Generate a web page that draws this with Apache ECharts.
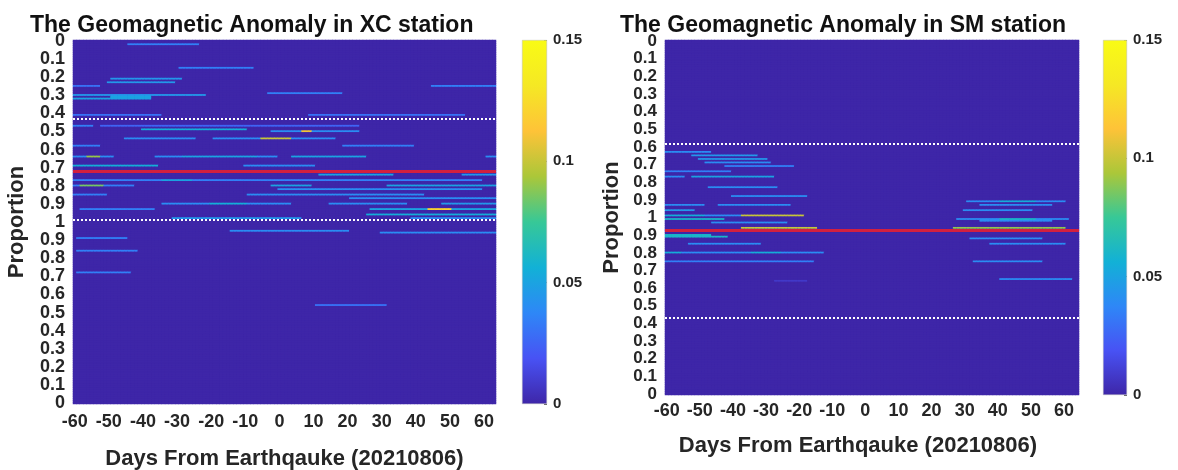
<!DOCTYPE html>
<html><head><meta charset="utf-8">
<script src="https://cdn.jsdelivr.net/npm/echarts@6/dist/echarts.min.js"></script>
<style>html,body{margin:0;padding:0;background:#fff}#c{width:1178px;height:470px}</style>
</head><body><div id="c"></div>
<script>
// ---------- data ----------
const titles = ['The Geomagnetic Anomaly in XC station', 'The Geomagnetic Anomaly in SM station'];
const xName = 'Days From Earthqauke (20210806)';
const yName = 'Proportion';
const yTickLabels = ['0','0.1','0.2','0.3','0.4','0.5','0.6','0.7','0.8','0.9','1',
                     '0.9','0.8','0.7','0.6','0.5','0.4','0.3','0.2','0.1','0'];
const xTickLabels = ['-60','-50','-40','-30','-20','-10','0','10','20','30','40','50','60'];
const rowCount = 201;               // proportion bins, top to bottom
const xcDayRange = [-60, 63];
const smDayRange = [-60, 64];
const colorRange = [0, 0.15];
const colorTickStep = 0.05;
const parula = ['#3E26A8','#4852F4','#2E87F7','#12B1D6','#37C897','#ABC739','#FEC338','#F5E824','#F9FB15'];

// anomaly segments: [row, startDay, endDay, value]
const xcSegments = [
  [2,-44,-24,0.035],[15,-29,-8,0.035],[21,-49,-29,0.045],[23,-50,-31,0.045],
  [25,-60,-53,0.03],[25,45,63,0.035],[29,-3,18,0.035],[30,-60,-22,0.045],[31,-49,-38,0.05],
  [32,-60,-38,0.05],[41,-60,-35,0.03],[41,9,54,0.03],
  [47,-60,-55,0.035],[47,-52,23,0.025],[49,-40,-10,0.055],
  [50,-2,23,0.04],[50,7,9,0.11],
  [54,-45,-25,0.04],[54,-19,16,0.04],[54,-5,3,0.1],
  [58,-60,-53,0.035],[58,19,39,0.035],
  [64,-60,-49,0.04],[64,-56,-53,0.09],[64,-36,-1,0.04],[64,-28,-7,0.05],[64,4,25,0.05],[64,61,63,0.04],
  [69,-60,-36,0.055],[69,-10,10,0.04],
  [74,12,33,0.05],[74,54,63,0.045],
  [77,-60,-12,0.035],[77,-34,-26,0.05],[77,-11,59,0.035],
  [80,-60,-43,0.035],[80,-58,-52,0.085],[80,-2,9,0.05],[80,32,63,0.05],
  [82,0,59,0.04],[85,-60,-51,0.035],[85,-9,42,0.04],[87,21,63,0.04],
  [90,-34,3,0.04],[90,-20,-10,0.055],[90,15,37,0.04],[90,48,63,0.045],
  [93,-58,-37,0.035],[93,27,63,0.05],[93,44,50,0.12],
  [96,26,63,0.055],[98,-31,6,0.045],[98,39,63,0.04],
  [105,-14,20,0.04],[106,30,63,0.04],
  [109,-59,-45,0.035],[116,-59,-42,0.035],[128,-59,-44,0.035],[146,11,31,0.03]
];
const smSegments = [
  [63,-60,-47,0.04],[65,-52,-33,0.045],[67,-50,-30,0.045],[69,-48,-29,0.04],
  [71,-42,-22,0.035],[74,-60,-41,0.035],[77,-60,-55,0.04],[77,-52,-28,0.05],
  [83,-47,-27,0.04],[88,-40,-18,0.04],
  [91,31,60,0.04],[91,41,51,0.055],
  [93,-60,-49,0.04],[93,-44,-23,0.04],[93,35,56,0.04],
  [96,-60,-52,0.045],[96,30,50,0.04],
  [99,-60,-19,0.04],[99,-60,-49,0.055],[99,-37,-19,0.1],
  [101,-60,-43,0.06],[101,28,61,0.04],[101,41,51,0.06],
  [102,35,56,0.04],[103,-46,-24,0.04],
  [106,-37,-15,0.1],[106,27,60,0.09],
  [110,-60,-47,0.06],[111,-60,-42,0.06],[112,32,53,0.04],
  [115,-53,-32,0.04],[115,38,60,0.04],
  [120,-60,-13,0.04],[120,-60,-56,0.055],[120,-34,-26,0.055],
  [125,-60,-38,0.035],[125,-37,-16,0.035],[125,33,53,0.04],
  [135,41,62,0.04],[136,-27,-18,0.008]
];
// threshold rows: [upper, lower] white dotted lines, and the red mean line
const xcWhiteRows = [43, 99];
const xcRedRow = 72;
const smWhiteRows = [58, 157];
const smRedRow = 107;

// ---------- build ----------
function dayList(r) { const a = []; for (let d = r[0]; d <= r[1]; d++) a.push(String(d)); return a; }
const xcDays = dayList(xcDayRange);
const smDays = dayList(smDayRange);
const rows = []; for (let r = 0; r < rowCount; r++) rows.push(String(r));

function buildCells(days, segs) {
  const d0 = +days[0];
  const m = rows.map(() => days.map(() => 0));
  segs.forEach(s => {
    for (let d = s[1]; d <= s[2]; d++) {
      const xi = d - d0;
      if (xi >= 0 && xi < days.length) m[s[0]][xi] = s[3];
    }
  });
  const out = [];
  for (let r = 0; r < rows.length; r++) for (let x = 0; x < days.length; x++) out.push([x, r, m[r][x]]);
  return out;
}

const FONT = 'Liberation Sans, Arial, Helvetica, sans-serif';
const TXT = '#262626';
const tickFont = { fontSize: 18, fontWeight: 'bold', color: TXT, fontFamily: FONT };
const nameFont = { fontSize: 22, fontWeight: 'bold', color: TXT, fontFamily: FONT };

function heatX(gi, days, margin, gap, pad) {
  return {
    type: 'category', gridIndex: gi, data: days,
    axisLine: { show: false }, axisTick: { show: false }, splitLine: { show: false },
    axisLabel: Object.assign({
      interval: (i, v) => xTickLabels.indexOf(v) >= 0, margin: margin, hideOverlap: false }, tickFont),
    name: xName, nameLocation: 'middle', nameGap: gap, nameMoveOverlap: false,
    nameTextStyle: Object.assign({ padding: pad }, nameFont)
  };
}
function heatY(gi, gap, fs) {
  return {
    type: 'category', gridIndex: gi, data: rows, inverse: true,
    axisLine: { show: false }, axisTick: { show: false }, splitLine: { show: false },
    axisLabel: Object.assign({}, tickFont, { interval: (i) => i % 10 === 0, margin: 8, showMinLabel: true, showMaxLabel: true,
      hideOverlap: false, fontSize: fs, lineHeight: 14, formatter: (v, i) => yTickLabels[Math.round(i / 10)] }),
    name: yName, nameLocation: 'middle', nameGap: gap, nameRotate: 90, nameMoveOverlap: false, nameTextStyle: nameFont
  };
}
function cbX(gi) { return { type: 'category', gridIndex: gi, data: ['c'], show: false }; }
function cbY(gi) {
  return {
    type: 'value', gridIndex: gi, position: 'right', min: colorRange[0], max: colorRange[1], interval: colorTickStep,
    axisLine: { show: false }, splitLine: { show: false },
    axisTick: { show: true, inside: true, length: 3, lineStyle: { color: '#666' } },
    axisLabel: { margin: 6, fontSize: 15, fontWeight: 'bold', color: TXT, fontFamily: FONT,
                 formatter: v => String(+v.toFixed(2)) }
  };
}
function lines(whiteRows, redRow) {
  return {
    silent: true, symbol: ['none', 'none'], label: { show: false }, animation: false,
    data: whiteRows.map(r => ({ yAxis: String(r), lineStyle: { color: '#ffffff', type: 'dotted', width: 2 } }))
      .concat([{ yAxis: String(redRow), lineStyle: { color: '#D2203F', type: 'solid', width: 3 } }])
  };
}
const gradient = new echarts.graphic.LinearGradient(0, 0, 0, 1,
  parula.slice().reverse().map((c, i, a) => ({ offset: i / (a.length - 1), color: c })));

const gridBase = { outerBoundsMode: 'none', containLabel: false };
const option = {
  animation: false,
  backgroundColor: '#fff',
  textStyle: { fontFamily: FONT },
  title: [
    { text: titles[0], left: 25, top: 9, textStyle: { fontSize: 23, fontWeight: 'bold', color: '#111', fontFamily: FONT } },
    { text: titles[1], left: 615, top: 9, textStyle: { fontSize: 23, fontWeight: 'bold', color: '#111', fontFamily: FONT } }
  ],
  grid: [
    Object.assign({ left: 73, top: 40, width: 423, height: 364, show: true, backgroundColor: parula[0], borderWidth: 0 }, gridBase),
    Object.assign({ left: 522, top: 40, width: 25, height: 364 }, gridBase),
    Object.assign({ left: 665, top: 40, width: 414, height: 355, show: true, backgroundColor: parula[0], borderWidth: 0 }, gridBase),
    Object.assign({ left: 1103, top: 40, width: 24, height: 355 }, gridBase)
  ],
  visualMap: {
    show: false, type: 'continuous', min: colorRange[0], max: colorRange[1],
    seriesIndex: [0, 1], dimension: 2, inRange: { color: parula }
  },
  xAxis: [heatX(0, xcDays, 9, 44, [0, 0, 0, 0]), cbX(1), heatX(2, smDays, 7, 40, [0, 28, 0, 0]), cbX(3)],
  yAxis: [heatY(0, 45, 18), cbY(1), heatY(2, 42, 17), cbY(3)],
  series: [
    { type: 'heatmap', xAxisIndex: 0, yAxisIndex: 0, data: buildCells(xcDays, xcSegments),
      progressive: 0, silent: true, markLine: lines(xcWhiteRows, xcRedRow) },
    { type: 'heatmap', xAxisIndex: 2, yAxisIndex: 2, data: buildCells(smDays, smSegments),
      progressive: 0, silent: true, markLine: lines(smWhiteRows, smRedRow) },
    { type: 'bar', xAxisIndex: 1, yAxisIndex: 1, data: [colorRange[1]], barWidth: '100%', silent: true,
      itemStyle: { color: gradient, borderColor: '#bbb', borderWidth: 0.5 } },
    { type: 'bar', xAxisIndex: 3, yAxisIndex: 3, data: [colorRange[1]], barWidth: '100%', silent: true,
      itemStyle: { color: gradient, borderColor: '#bbb', borderWidth: 0.5 } }
  ]
};
const chart = echarts.init(document.getElementById('c'), null, { renderer: 'canvas' });
chart.setOption(option);
</script></body></html>
